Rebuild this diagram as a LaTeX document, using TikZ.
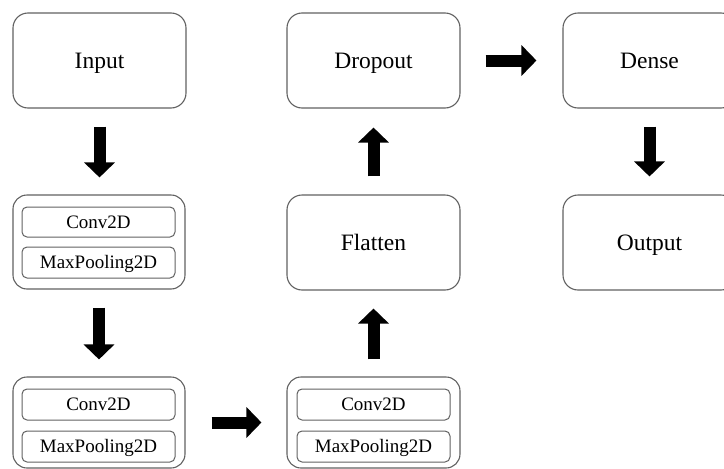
\documentclass[tikz,border=0pt]{standalone}
\usepackage{fontspec}
\setmainfont{Liberation Serif}
\usetikzlibrary{arrows.meta}
\begin{document}
\begin{tikzpicture}[x=1pt,y=-1pt,
  bigbox/.style={draw=black!62, line width=1.1pt, rounded corners=15pt,
    minimum width=173pt, minimum height=95pt, inner sep=0pt,
    text height=15.5pt, text depth=0pt,
    font=\fontsize{23.5}{27}\selectfont},
  blockbox/.style={draw=black!62, line width=1.1pt, rounded corners=14pt,
    minimum width=172pt, inner sep=0pt},
  layerbox/.style={draw=black!62, line width=1pt, rounded corners=5pt,
    minimum width=153pt, minimum height=30pt, inner sep=0pt,
    text height=12.5pt, text depth=0pt,
    font=\fontsize{19}{22}\selectfont},
  blockarrow/.style={line width=12pt, -{Triangle[length=15pt,width=30pt]}}]
\useasboundingbox (0,0) rectangle (724,469);
% top row
\node[bigbox] (input) at (99.5,60.5) {Input};
\node[bigbox] (dropout) at (373.5,60.5) {Dropout};
\node[bigbox] (dense) at (649.5,60.5) {Dense};
% middle row
\node[blockbox, minimum height=94pt] (block1) at (99,242) {};
\node[layerbox] (conv1) at (98.5,222) {Conv2D};
\node[layerbox, minimum height=31pt] (pool1) at (98.5,262.5) {MaxPooling2D};
\node[bigbox] (flatten) at (373.5,242.5) {Flatten};
\node[bigbox] (output) at (649.5,242.5) {Output};
% bottom row
\node[blockbox, minimum height=91pt] (block2) at (99,422.5) {};
\node[layerbox, minimum height=31pt] (conv2) at (98.5,404.5) {Conv2D};
\node[layerbox, minimum height=31pt] (pool2) at (98.5,446.5) {MaxPooling2D};
\node[blockbox, minimum width=173pt, minimum height=91pt] (block3) at (373.5,422.5) {};
\node[layerbox, minimum height=31pt] (conv3) at (373.5,404.5) {Conv2D};
\node[layerbox, minimum height=31pt] (pool3) at (373.5,446.5) {MaxPooling2D};
% arrows
\draw[blockarrow, shorten <=18pt, shorten >=17pt] (input.south) -- (input.south |- block1.north);
\draw[blockarrow, shorten <=18pt, shorten >=17pt] (block1.south) -- (block1.south |- block2.north);
\draw[blockarrow, shorten <=26pt, shorten >=25pt] (block2.east) -- (block2.east -| block3.west);
\draw[blockarrow, shorten <=17pt, shorten >=18pt] (block3.north) -- (block3.north |- flatten.south);
\draw[blockarrow, shorten <=18pt, shorten >=19pt] (flatten.north) -- (flatten.north |- dropout.south);
\draw[blockarrow, shorten <=25pt, shorten >=26pt] (dropout.east) -- (dropout.east -| dense.west);
\draw[blockarrow, shorten <=18pt, shorten >=18pt] (dense.south) -- (dense.south |- output.north);
\end{tikzpicture}
\end{document}
